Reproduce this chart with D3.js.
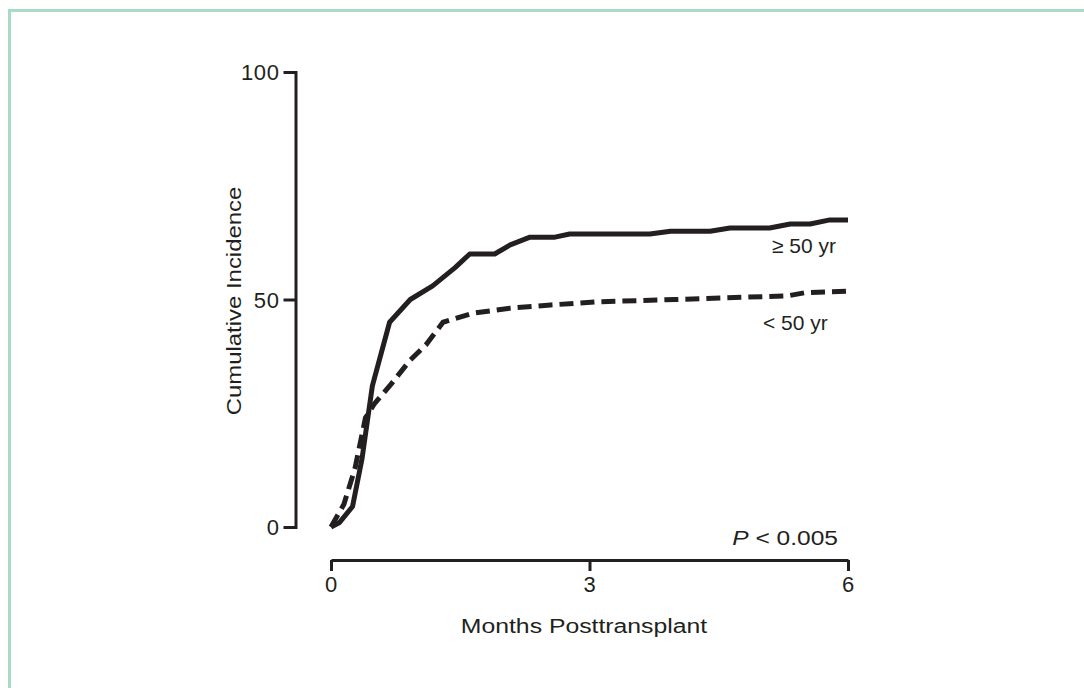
<!DOCTYPE html>
<html>
<head>
<meta charset="utf-8">
<script src="https://cdn.jsdelivr.net/npm/d3@7"></script>
<style>
body { margin: 0; background: #fff; }
text { font-family: "Liberation Sans", Arial, sans-serif; fill: #231f20; }
</style>
</head>
<body>
<svg id="chart" width="1084" height="688"></svg>
<script>
// months posttransplant vs cumulative incidence (%)
var olderMonths = [0, 0.1, 0.25, 0.36, 0.48, 0.68, 0.92, 1.18, 1.44, 1.61, 1.9, 2.08, 2.31, 2.6, 2.77, 3.7, 3.94, 4.4, 4.63, 5.09, 5.33, 5.56, 5.79, 6];
var olderValues = [0, 1, 4.5, 15, 31, 45, 50, 53, 57, 60, 60, 62, 63.7, 63.7, 64.4, 64.4, 65, 65, 65.7, 65.7, 66.6, 66.6, 67.5, 67.5];
var youngerMonths = [0, 0.15, 0.28, 0.4, 0.5, 0.68, 0.92, 1.1, 1.3, 1.65, 2.08, 2.55, 3.1, 4, 4.8, 5.3, 5.5, 6];
var youngerValues = [0, 5, 13, 24, 27, 31, 36.7, 40, 45, 47, 48.1, 48.8, 49.5, 50, 50.5, 50.8, 51.5, 51.8];
var xTicks = [0, 3, 6];
var yTicks = [0, 50, 100];
var seriesLabels = ["\u2265 50 yr", "< 50 yr"];

var svg = d3.select("#chart");
var ink = "#231f20";

// frame
svg.append("path").attr("d", "M9.5,688 V10.5 H1084").attr("fill", "none")
  .attr("stroke", "#a6dcc4").attr("stroke-width", 3);

var x = d3.scaleLinear().domain([0, 6]).range([331, 848]);
var y = d3.scaleLinear().domain([0, 100]).range([527, 72]);

var yAxis = svg.append("g").attr("transform", "translate(295.5,0)")
  .call(d3.axisLeft(y).tickValues(yTicks).tickFormat(d3.format("d")).tickSize(12).tickSizeOuter(0).tickPadding(4));
var xAxis = svg.append("g").attr("transform", "translate(0,560)")
  .call(d3.axisBottom(x).tickValues(xTicks).tickFormat(d3.format("d")).tickSize(11).tickSizeOuter(0).tickPadding(5));
[yAxis, xAxis].forEach(function (g) {
  g.select(".domain").attr("stroke", ink).attr("stroke-width", 3);
  g.selectAll(".tick line").attr("stroke", ink).attr("stroke-width", 3);
  g.selectAll(".tick text").attr("fill", ink).style("font-size", "22px")
    .style("letter-spacing", "0.6px").attr("font-family", null);
});
yAxis.selectAll(".tick text").attr("dy", "0.36em");
yAxis.select(".domain").attr("stroke-linecap", "square");

var line = d3.line().x(function (d) { return x(d[0]); }).y(function (d) { return y(d[1]); });

svg.append("path").datum(d3.zip(youngerMonths, youngerValues))
  .attr("d", line).attr("fill", "none").attr("stroke", ink)
  .attr("stroke-width", 5).attr("stroke-dasharray", "14,7");
svg.append("path").datum(d3.zip(olderMonths, olderValues))
  .attr("d", line).attr("fill", "none").attr("stroke", ink)
  .attr("stroke-width", 5).attr("stroke-linejoin", "round");

// series labels
svg.append("text").attr("x", 772).attr("y", 253).style("font-size", "21px").text(seriesLabels[0]);
svg.append("text").attr("x", 763).attr("y", 330).style("font-size", "21px").text(seriesLabels[1]);

// the original lettering is a little stretched sideways
var p = svg.append("text").attr("transform", "translate(838,545) scale(1.17,1)").attr("text-anchor", "end")
  .style("font-size", "21px");
p.append("tspan").style("font-style", "italic").text("P");
p.append("tspan").text(" < 0.005");

// axis titles
svg.append("text").attr("transform", "translate(584,633) scale(1.18,1)").attr("text-anchor", "middle")
  .style("font-size", "21px").text("Months Posttransplant");
svg.append("text").attr("transform", "translate(241,301) rotate(-90) scale(1.14,1)").attr("text-anchor", "middle")
  .style("font-size", "21px").text("Cumulative Incidence");
</script>
</body>
</html>
